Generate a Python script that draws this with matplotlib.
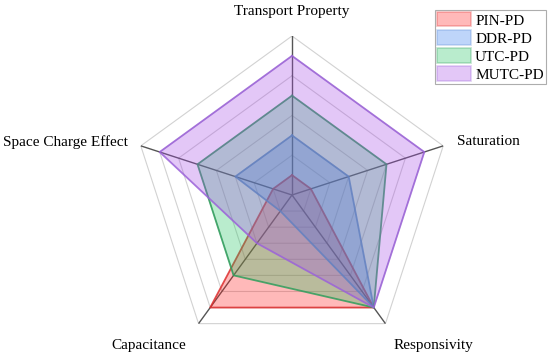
import numpy as np
from matplotlib import pyplot as plt
from matplotlib.patches import Patch

plt.rcParams['font.family'] = ['Liberation Serif', 'DejaVu Serif']

# axes in clockwise order starting at the top
categories = ['Transport Property', 'Saturation', 'Responsivity', 'Capacitance', 'Space Charge Effect']
series_names = ['PIN-PD', 'DDR-PD', 'UTC-PD', 'MUTC-PD']
pin_pd = [1, 1, 4, 4, 1]
ddr_pd = [2, 2, 4, 1, 2]
utc_pd = [3, 3, 4, 3, 3]
mutc_pd = [4, 4, 4, 2, 4]

line_colors = ['#dc2f2f', '#5b8ad6', '#2f9e5c', '#9b62d9']
fill_colors = ['#ff1a1a', '#2a74f0', '#1ac25c', '#a547e6']

r_min, r_max = 0.5, 4.5
ring_levels = np.arange(1.0, 4.51, 0.5)

fig = plt.figure(figsize=(5.5, 3.6), dpi=100)
ax = fig.add_axes([133/550, 6/360, 318/550, 318/360], projection='polar')
ax.set_theta_offset(np.pi/2)
ax.set_theta_direction(-1)
ax.set_ylim(r_min, r_max)
ax.grid(False)
ax.spines['polar'].set_visible(False)
ax.set_xticks([])
ax.set_yticks([])

n = len(categories)
angles = np.linspace(0, 2*np.pi, n, endpoint=False)
closed = np.append(angles, angles[0])

# pentagon grid and spokes
for lev in ring_levels:
    ax.plot(closed, [lev]*(n+1), color='#d2d2d2', lw=0.8, zorder=1)
for a in angles:
    ax.plot([a, a], [r_min, r_max], color='#555555', lw=1.0, zorder=1)

handles = []
all_series = [pin_pd, ddr_pd, utc_pd, mutc_pd]
for i, (name, vals, lc, fc) in enumerate(zip(series_names, all_series, line_colors, fill_colors)):
    v = np.append(vals, vals[0])
    ax.fill(closed, v, color=fc, alpha=0.3, lw=0, zorder=2+2*i)
    ax.plot(closed, v, color=lc, lw=1.3, alpha=0.85, zorder=3+2*i)
    handles.append(Patch(facecolor=fc, edgecolor=lc, alpha=0.3, lw=1.2, label=name))

# axis labels
fig.text(292/550, 1-12/360, categories[0], ha='center', va='center', fontsize=11)
fig.text(488/550, 1-142/360, categories[1], ha='center', va='center', fontsize=11)
fig.text(433/550, 1-345/360, categories[2], ha='center', va='center', fontsize=11)
fig.text(149/550, 1-345/360, categories[3], ha='center', va='center', fontsize=11)
fig.text(65/550, 1-142/360, categories[4], ha='center', va='center', fontsize=11)

leg = fig.legend(handles=handles, loc='upper right', bbox_to_anchor=(546/550, 1-10/360),
                 fontsize=11, frameon=True, fancybox=False, borderaxespad=0,
                 borderpad=0.15, handlelength=2.2, handleheight=1.05,
                 handletextpad=0.3, labelspacing=0.18)
leg.get_frame().set_edgecolor('#999999')
leg.get_frame().set_linewidth(0.8)

plt.savefig('out.png', dpi=100)
